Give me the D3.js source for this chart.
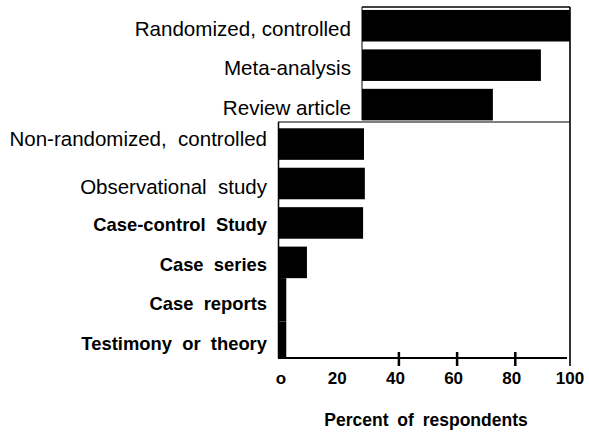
<!DOCTYPE html>
<html><head><meta charset="utf-8">
<script src="https://cdn.jsdelivr.net/npm/d3@7"></script>
<style>body{margin:0;background:#fff}</style>
</head><body>
<svg id="c" width="589" height="432"></svg>
<script>
const categories = ["Randomized, controlled","Meta-analysis","Review article","Non-randomized,  controlled","Observational  study","Case-control  Study","Case  series","Case  reports","Testimony  or  theory"];
const values = [100, 90, 73.5, 29.2, 29.5, 28.9, 9.6, 2.5, 2.5];
const tickValues = [0, 20, 40, 60, 80, 100];
const tickLabels = ["o", "20", "40", "60", "80", "100"];
const tickMarks = [40, 60, 80];

const svg = d3.select("#c");
const x = d3.scaleLinear().domain([0, 100]).range([279, 570]);
const y = d3.scaleBand().domain(categories).range([6, 361]).paddingInner(0.2).paddingOuter(0.1);
const axisY = 358;
const topOffset = 83; // top panel pasted offset (px)

// label style groups by row index
const labelStyle = i => i < 3 ? {font:"Liberation Sans", size:20.6, weight:"normal", dy:10}
  : i < 5 ? {font:"Liberation Sans", size:20.5, weight:"normal", dy: i===3 ? 1.5 : 10.5}
  : {font:"Liberation Sans", size:18.4, weight:"bold", dy:8.5};

const data = categories.map((c, i) => ({c, v: values[i], i}));

svg.selectAll("rect.bar").data(data).join("rect")
  .attr("class","bar")
  .attr("fill","#000")
  .attr("x", d => d.i < 3 ? x(0) + topOffset : x(0))
  .attr("width", d => d.i < 3 ? x(d.v) - x(0) - topOffset : x(d.v) - x(0))
  .attr("y", d => d.v < 5 ? y(d.c) - y.step()*y.paddingInner()/2 - (d.i===7 ? 4 : 0) : y(d.c))
  .attr("height", d => d.v < 5 ? Math.min(y.step() + (d.i===7 ? 4 : 0), axisY - (y(d.c) - y.step()*y.paddingInner()/2 - (d.i===7 ? 4 : 0))) : y.bandwidth());

// frame lines
const line = (x1,y1,x2,y2,w) => svg.append("line").attr("x1",x1).attr("y1",y1).attr("x2",x2).attr("y2",y2).attr("stroke","#000").attr("stroke-width",w);
line(x(0)+topOffset, 7, 570, 7, 1.4);
line(x(0)+topOffset, 7, x(0)+topOffset, 120, 1);
line(570, 7, 570, 366, 1.6);
line(x(0)-1, 122, 570, 122, 1.2);
line(x(0)-0.5, 122, x(0)-0.5, axisY, 1.5);

// x axis
const axis = d3.axisBottom(x).tickValues(tickMarks).tickSize(0).tickFormat("");
const gA = svg.append("g").attr("transform", `translate(0,${axisY})`).call(axis);
gA.select(".domain").remove();
line(x(0)-1, axisY, 567, axisY, 2);
gA.selectAll(".tick").append("line").attr("x1",3).attr("x2",3).attr("y1",-6).attr("y2",8).attr("stroke","#000").attr("stroke-width",2.5);

svg.selectAll("text.tl").data(tickValues).join("text")
  .attr("class","tl")
  .attr("x", d => x(d) + (d===0 ? 2 : 0))
  .attr("y", 384)
  .attr("text-anchor","middle")
  .attr("font-family","Liberation Sans, Arial, sans-serif")
  .attr("font-weight","bold")
  .attr("font-size", 17)
  .text((d,i) => tickLabels[i]);

svg.append("text")
  .attr("x", 426).attr("y", 426)
  .attr("text-anchor","middle")
  .attr("font-family","Liberation Sans, Arial, sans-serif")
  .attr("font-weight","bold")
  .attr("font-size", 17.5)
  .style("word-spacing","4px")
  .text("Percent of respondents");

// category labels
svg.selectAll("text.cat").data(data).join("text")
  .attr("class","cat")
  .attr("x", d => d.i < 3 ? 351 : 267)
  .attr("y", d => y(d.c) + y.bandwidth()/2 + labelStyle(d.i).dy)
  .attr("text-anchor","end")
  .attr("font-family", d => labelStyle(d.i).font + ", Arial, sans-serif")
  .attr("font-size", d => labelStyle(d.i).size)
  .attr("font-weight", d => labelStyle(d.i).weight)
  .style("white-space","pre")
  .attr("xml:space","preserve")
  .text(d => d.c);
</script>
</body></html>
